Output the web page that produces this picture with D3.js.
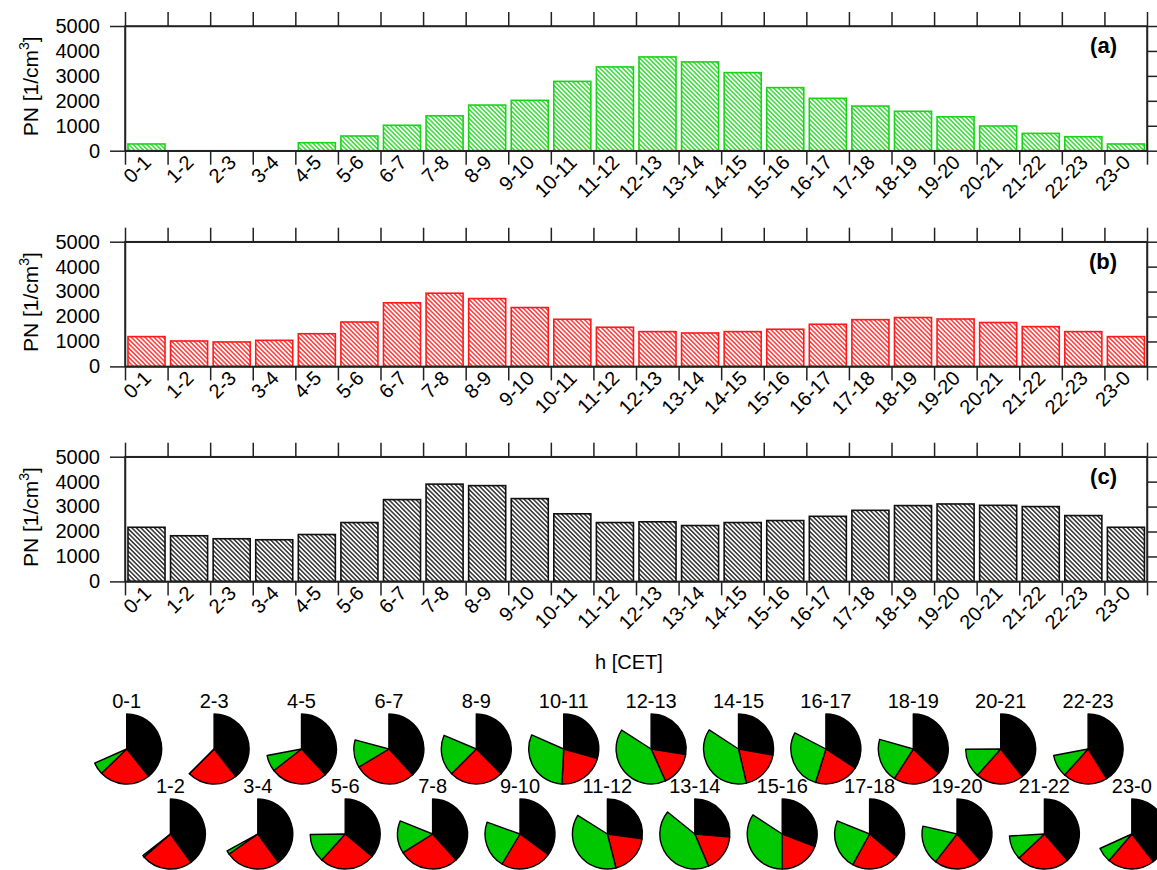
<!DOCTYPE html>
<html>
<head>
<meta charset="utf-8">
<script src="https://cdn.jsdelivr.net/npm/d3@7"></script>
<style>
  html, body { margin: 0; padding: 0; background: #fff; }
  svg { display: block; font-family: "Liberation Sans", Arial, sans-serif; }
</style>
</head>
<body>
<svg id="chart" width="1157" height="870"></svg>
<script>
// hour classes (CET)
var hours = ["0-1","1-2","2-3","3-4","4-5","5-6","6-7","7-8","8-9","9-10","10-11","11-12",
             "12-13","13-14","14-15","15-16","16-17","17-18","18-19","19-20","20-21","21-22","22-23","23-0"];

// PN [1/cm3] per hour, panels (a), (b), (c)
var pnA = [270, 0, 0, 0, 320, 590, 1020, 1400, 1830, 2020, 2780, 3360,
           3760, 3560, 3130, 2530, 2100, 1790, 1580, 1360, 990, 695, 560, 270];
var pnB = [1195, 1020, 980, 1045, 1310, 1780, 2550, 2935, 2720, 2360, 1890, 1570,
           1395, 1340, 1395, 1490, 1690, 1875, 1960, 1900, 1760, 1595, 1395, 1195];
var pnC = [2170, 1830, 1710, 1670, 1880, 2360, 3280, 3900, 3840, 3320, 2710, 2360,
           2390, 2240, 2360, 2440, 2610, 2850, 3040, 3105, 3050, 3000, 2640, 2170];

var yTicks = [0, 1000, 2000, 3000, 4000, 5000];
var panelTags = ["(a)", "(b)", "(c)"];
var panelColors = ["#19d419", "#ff1a1a", "#111111"];

// pie shares, percent of the full circle (rest stays empty)
var pieBlack = [39.2, 40.0, 39.4, 40.0, 38.1, 36.1, 38.1, 38.3, 37.5, 35.0, 29.4, 27.2,
                27.5, 26.4, 27.8, 30.8, 34.2, 36.1, 37.2, 38.6, 39.4, 38.6, 41.1, 39.4];
var pieRed   = [23.6, 23.6, 23.1, 25.3, 26.4, 25.6, 28.3, 27.8, 25.0, 23.6, 21.4, 18.9,
                15.8, 17.2, 18.6, 19.2, 20.6, 21.9, 21.9, 21.9, 22.2, 24.4, 20.6, 21.9];
var pieGreen = [5.6, 0.8, 0, 1.7, 7.5, 13.1, 12.8, 15.0, 18.9, 21.9, 30.8, 37.8,
                40.8, 42.2, 37.8, 34.2, 27.8, 23.1, 20.3, 18.1, 13.3, 11.1, 10.3, 6.9];
var pieColors = ["#000000", "#ff0000", "#00c800"];

var svg = d3.select("#chart");
var defs = svg.append("defs");

var left = 125, right = 1147, plotH = 124.7;
var tops = [26, 241.7, 456.7];

var x = d3.scaleBand().domain(hours).range([left, right]).padding(0);
var xEdge = d3.scaleLinear().domain([0, hours.length]).range([left, right]);

[pnA, pnB, pnC].forEach(function (values, i)
{
  var top = tops[i], bottom = top + plotH;
  var color = panelColors[i];
  var y = d3.scaleLinear().domain([0, 5000]).range([bottom, top]);
  var g = svg.append("g");

  // hatch pattern
  var pat = defs.append("pattern")
    .attr("id", "hatch" + i)
    .attr("patternUnits", "userSpaceOnUse")
    .attr("width", 10).attr("height", 3.2)
    .attr("patternTransform", "rotate(45)");
  pat.append("line")
    .attr("x1", 0).attr("x2", 10).attr("y1", 1.6).attr("y2", 1.6)
    .attr("stroke", color).attr("stroke-width", 1.3);

  // bars
  g.selectAll("rect.bar").data(values).enter().append("rect")
    .attr("class", "bar")
    .attr("x", function (d, k) { return x(hours[k]) + x.bandwidth() * 0.07; })
    .attr("width", x.bandwidth() * 0.87)
    .attr("y", function (d) { return y(d); })
    .attr("height", function (d) { return y(0) - y(d); })
    .attr("fill", "url(#hatch" + i + ")")
    .attr("stroke", color)
    .attr("stroke-width", d => d > 0 ? 1.6 : 0);

  // frame
  g.append("rect")
    .attr("x", left).attr("y", top).attr("width", right - left).attr("height", plotH)
    .attr("fill", "none").attr("stroke", "#222").attr("stroke-width", 1.5);

  // top / bottom ticks at hour boundaries
  var edges = d3.range(hours.length + 1);
  g.append("g").attr("transform", "translate(0," + top + ")")
    .call(d3.axisTop(xEdge).tickValues(edges).tickSize(14).tickSizeOuter(0).tickFormat(""));
  g.append("g").attr("transform", "translate(0," + bottom + ")")
    .call(d3.axisBottom(xEdge).tickValues(edges).tickSize(14).tickSizeOuter(0).tickFormat(""));

  // right ticks
  g.append("g").attr("transform", "translate(" + right + ",0)")
    .call(d3.axisRight(y).tickValues(yTicks).tickSize(10).tickSizeOuter(0).tickFormat(""));

  // left labels, ticks only at the ends
  g.append("g").attr("transform", "translate(" + left + ",0)")
    .call(d3.axisLeft(y).tickValues(y.domain()).tickSize(15).tickSizeOuter(0).tickFormat(""));
  g.append("g").attr("class", "ylab").attr("transform", "translate(" + left + ",0)")
    .call(d3.axisLeft(y).tickValues(yTicks).tickSize(0).tickPadding(25).tickFormat(d3.format("d")))
    .call(function (s) { s.select(".domain").remove(); });

  g.selectAll(".domain").attr("stroke", "#222").attr("stroke-width", 1.5);
  g.selectAll(".tick line").attr("stroke", "#222").attr("stroke-width", 1.5);
  g.selectAll(".ylab text").attr("font-size", 20).attr("fill", "#000")
    .attr("font-family", "Liberation Sans, Arial, sans-serif");

  // rotated hour labels
  g.selectAll("text.hour").data(hours).enter().append("text")
    .attr("class", "hour")
    .attr("transform", function (h) {
      return "translate(" + (x(h) + x.bandwidth() / 2 + 6) + "," + (bottom + 13) + ") rotate(-45)";
    })
    .attr("text-anchor", "end")
    .attr("font-size", 20)
    .text(function (h) { return h; });

  // y title
  var yt = g.append("text")
    .attr("transform", "translate(38," + (top + plotH / 2 - 2) + ") rotate(-90)")
    .attr("text-anchor", "middle")
    .attr("font-size", 21);
  yt.append("tspan").text("PN [1/cm");
  yt.append("tspan").attr("dy", -9).attr("font-size", 14).text("3");
  yt.append("tspan").attr("dy", 9).text("]");

  // panel tag
  g.append("text")
    .attr("x", right - 30).attr("y", top + 27)
    .attr("text-anchor", "end")
    .attr("font-weight", "bold").attr("font-size", 22)
    .text(panelTags[i]);
});

// x title
svg.append("text")
  .attr("x", 629).attr("y", 669)
  .attr("text-anchor", "middle").attr("font-size", 20)
  .text("h [CET]");

// pies
var px = d3.scalePoint().domain(hours).range([126.7, 1131.8]);
var rowY = [749, 834];
var pie = d3.pie().sort(null).value(function (d) { return d; });
var arc = d3.arc().innerRadius(0).outerRadius(35);

hours.forEach(function (h, k)
{
  var cx = px(h), cy = rowY[k % 2];
  var vals = [pieBlack[k], pieRed[k], pieGreen[k]];
  var rest = 100 - d3.sum(vals);
  var slices = pie(vals.concat([rest])).slice(0, 3);
  var g = svg.append("g").attr("transform", "translate(" + cx + "," + cy + ")");

  g.selectAll("path").data(slices).enter().append("path")
    .attr("d", arc)
    .attr("fill", function (d, j) { return pieColors[j]; })
    .attr("stroke", "#000").attr("stroke-width", 1.4)
    .attr("stroke-linejoin", "round");

  g.append("text")
    .attr("y", -41.5)
    .attr("text-anchor", "middle").attr("font-size", 20)
    .text(h);
});
</script>
</body>
</html>
